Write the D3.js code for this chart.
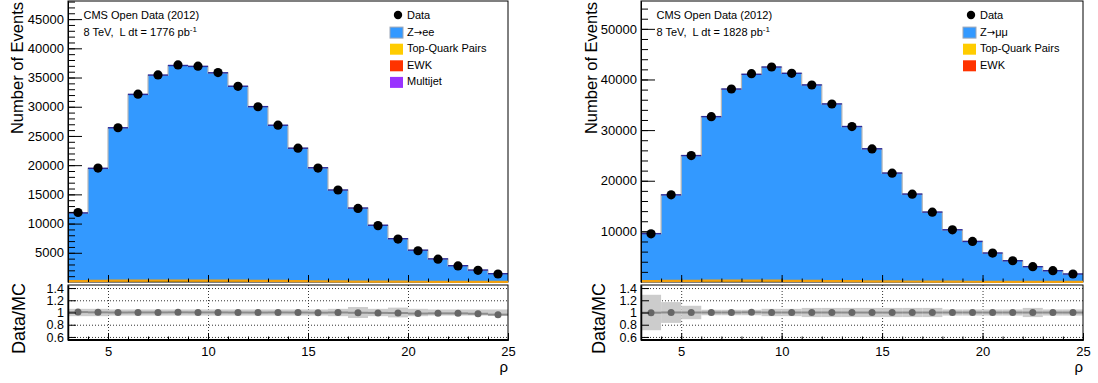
<!DOCTYPE html>
<html>
<head>
<meta charset="utf-8">
<script src="https://cdn.jsdelivr.net/npm/d3@7"></script>
<style>
  body { margin: 0; background: #fff; }
  svg { display: block; font-family: "Liberation Sans", Arial, sans-serif; }
</style>
</head>
<body>
<div id="container"></div>
<script>
/* CONSTANTS AND GLOBALS */
const width = 1098,
  height = 383;

/* DATA */
const binEdges = [3, 4, 5, 6, 7, 8, 9, 10, 11, 12, 13, 14, 15, 16, 17, 18, 19, 20, 21, 22, 23, 24, 25];

// Z -> ee channel
const eeData = [11900, 19500, 26400, 32150, 35450, 37150, 36950, 35850, 33500, 30000, 26850, 22900, 19500, 15750, 12600, 9650, 7350, 5350, 3900, 2750, 2000, 1370];
const eeZ = [11620, 19180, 26080, 31760, 35050, 36700, 36560, 35480, 33210, 29750, 26590, 22700, 19380, 15600, 12550, 9620, 7340, 5390, 3915, 2760, 2020, 1405];
const eeTop = [150, 200, 230, 250, 260, 260, 250, 240, 220, 200, 180, 150, 130, 110, 80, 70, 55, 40, 30, 22, 16, 12];
const eeEwk = [30, 45, 55, 60, 60, 60, 55, 50, 45, 40, 35, 30, 25, 20, 16, 12, 10, 7, 5, 4, 3, 2];
const eeQcd = [20, 30, 35, 40, 40, 40, 38, 35, 30, 28, 25, 20, 17, 14, 11, 9, 7, 5, 4, 3, 2, 1];
const eeBand = [0.06, 0.06, 0.05, 0.05, 0.05, 0.05, 0.05, 0.05, 0.05, 0.05, 0.05, 0.05, 0.05, 0.06, 0.09, 0.06, 0.08, 0.06, 0.05, 0.05, 0.05, 0.05];

// Z -> mumu channel
const mmData = [9520, 17220, 24970, 32660, 38120, 41140, 42460, 41210, 38910, 35160, 30690, 26290, 21490, 17350, 13800, 10310, 8010, 5720, 4200, 3020, 2230, 1580];
const mmZ = [9350, 16950, 24670, 32330, 37770, 40680, 42130, 40920, 38650, 34940, 30500, 26140, 21370, 17250, 13720, 10240, 7955, 5680, 4170, 3000, 2215, 1570];
const mmTop = [160, 210, 240, 260, 270, 270, 260, 240, 220, 190, 170, 140, 120, 95, 75, 60, 45, 35, 25, 18, 13, 9];
const mmEwk = [40, 50, 60, 70, 70, 70, 65, 55, 50, 40, 35, 30, 25, 20, 15, 12, 10, 7, 5, 4, 3, 2];
const mmBand = [0.29, 0.17, 0.11, 0.045, 0.045, 0.045, 0.06, 0.06, 0.075, 0.075, 0.075, 0.075, 0.075, 0.075, 0.075, 0.05, 0.05, 0.05, 0.05, 0.075, 0.05, 0.05];

// axis ticks
const eeYTicks = [5000, 10000, 15000, 20000, 25000, 30000, 35000, 40000, 45000];
const mmYTicks = [10000, 20000, 30000, 40000, 50000];
const xTicks = [5, 10, 15, 20, 25];
const ratioTicks = [0.6, 0.8, 1, 1.2, 1.4];

const colors = {
  z: '#3399ff',
  top: '#ffcc00',
  ewk: '#ff3300',
  qcd: '#9933ff'
};

/* CREATE SVG ELEMENT */
const svg = d3.select('#container')
  .append('svg')
  .attr('width', width)
  .attr('height', height);

function drawPanel(p) {
  const n = binEdges.length - 1;
  const rows = d3.range(n).map(i => ({
    lo: binEdges[i],
    hi: binEdges[i + 1],
    top: p.top[i],
    ewk: p.ewk[i],
    z: p.z[i],
    qcd: p.qcd ? p.qcd[i] : 0,
    data: p.data[i],
    band: p.band[i]
  }));
  rows.forEach(d => {
    d.mc = d.top + d.ewk + d.z + d.qcd;
    d.ratio = d.data / d.mc;
  });

  // SCALES
  const x = d3.scaleLinear().domain([binEdges[0], binEdges[n]]).range([p.x0, p.x1]);
  const y = d3.scaleLinear().domain([0, p.ymax]).range([282, 1]);
  const yr = d3.scaleLinear().domain([0.55, 1.45]).range([340, 285]);

  const g = svg.append('g');

  // STACKED HISTOGRAMS
  const keys = p.qcd ? ['top', 'ewk', 'z', 'qcd'] : ['top', 'ewk', 'z'];
  const series = d3.stack().keys(keys)(rows);
  const stepPts = s => {
    const pts = s.map((d, i) => [rows[i].lo, d[0], d[1]]);
    pts.push([rows[n - 1].hi, s[n - 1][0], s[n - 1][1]]);
    return pts;
  };
  const area = d3.area()
    .curve(d3.curveStepAfter)
    .x(d => x(d[0]))
    .y0(d => y(d[1]))
    .y1(d => y(d[2]));

  series.forEach(s => {
    g.append('path')
      .attr('d', area(stepPts(s)))
      .attr('fill', colors[s.key]);
  });

  // outline of the stack: grey risers, dark blue tops
  const line = d3.line()
    .curve(d3.curveStepAfter)
    .x(d => x(d[0]))
    .y(d => y(d[2]));
  const topSeries = series[series.length - 1];
  g.append('path')
    .attr('d', line(stepPts(topSeries)))
    .attr('fill', 'none')
    .attr('stroke', '#b8b8b8')
    .attr('stroke-width', 1.2);
  g.selectAll('.top-edge')
    .data(rows)
    .join('line')
    .attr('x1', d => x(d.lo))
    .attr('x2', d => x(d.hi))
    .attr('y1', d => y(d.mc))
    .attr('y2', d => y(d.mc))
    .attr('stroke', '#2a2a9c')
    .attr('stroke-width', 1.4);

  // DATA POINTS
  g.selectAll('.dot')
    .data(rows)
    .join('circle')
    .attr('cx', d => x((d.lo + d.hi) / 2))
    .attr('cy', d => y(d.data))
    .attr('r', 4.6)
    .attr('fill', '#000');

  // TOP FRAME AND AXES
  g.append('rect')
    .attr('x', p.x0).attr('y', 1)
    .attr('width', p.x1 - p.x0).attr('height', 281)
    .attr('fill', 'none').attr('stroke', '#000').attr('stroke-width', 1);

  // top-quark line along the bottom
  g.append('path')
    .attr('d', line(stepPts(series[0])))
    .attr('fill', 'none')
    .attr('stroke', '#f0a010')
    .attr('stroke-width', 2.2);

  const yAxis = d3.axisLeft(y)
    .tickValues(p.yTicks)
    .tickFormat(d3.format('d'))
    .tickSizeInner(-14)
    .tickSizeOuter(0)
    .tickPadding(4);
  const yMinor = d3.axisLeft(y)
    .tickValues(d3.range(p.minorStep, p.ymax, p.minorStep))
    .tickFormat('')
    .tickSizeInner(-7)
    .tickSizeOuter(0);
  g.append('g').attr('transform', `translate(${p.x0},0)`).call(yMinor);
  g.append('g').attr('transform', `translate(${p.x0},0)`).call(yAxis)
    .attr('font-size', 13).attr('font-family', null);

  const xTop = d3.axisBottom(x).tickValues(xTicks.slice(0, -1)).tickFormat('')
    .tickSizeInner(-7).tickSizeOuter(0);
  const xTopMinor = d3.axisBottom(x).tickValues(binEdges.slice(1, -1)).tickFormat('')
    .tickSizeInner(-3.5).tickSizeOuter(0);
  g.append('g').attr('transform', 'translate(0,282)').call(xTopMinor)
    .call(a => a.select('.domain').remove());
  g.append('g').attr('transform', 'translate(0,282)').call(xTop)
    .call(a => a.select('.domain').remove());

  g.append('text')
    .attr('transform', `translate(${p.titleX},2) rotate(-90)`)
    .attr('text-anchor', 'end')
    .attr('font-size', 16.5)
    .text('Number of Events');

  // LABELS
  g.append('text').attr('x', p.x0 + 15.5).attr('y', 19).attr('font-size', 11)
    .text('CMS Open Data (2012)');
  const lumi = g.append('text').attr('x', p.x0 + 15.5).attr('y', 36).attr('font-size', 11);
  lumi.append('tspan').text(`8 TeV, \u00a0L dt = ${p.lumi} pb`);
  lumi.append('tspan').attr('dy', -4).attr('font-size', 8).text('-1');

  // LEGEND
  const lx = p.x0 + 322;
  p.legend.forEach((e, i) => {
    const by = 19 + i * 16.6;
    if (e.dot) {
      g.append('circle').attr('cx', lx + 8).attr('cy', by - 4).attr('r', 4.2).attr('fill', '#000');
    } else {
      g.append('rect').attr('x', lx).attr('y', by - 8.5).attr('width', 13).attr('height', 11)
        .attr('fill', colors[e.key])
        .attr('stroke', e.key === 'z' ? '#9aa6b8' : 'none');
    }
    const t = g.append('text').attr('x', lx + 17).attr('y', by).attr('font-size', 11);
    if (e.arrow) {
      t.append('tspan').text('Z');
      t.append('tspan').attr('font-family', 'DejaVu Sans').attr('font-size', 10).text('\u2192');
      t.append('tspan').text(e.arrow);
    } else {
      t.text(e.label);
    }
  });

  // RATIO PANEL
  const gridH = d3.axisLeft(yr).tickValues([0.6, 0.8, 1.2, 1.4]).tickFormat('')
    .tickSizeInner(-(p.x1 - p.x0)).tickSizeOuter(0);
  g.append('g').attr('transform', `translate(${p.x0},0)`).call(gridH)
    .call(a => a.select('.domain').remove())
    .call(a => a.selectAll('line').attr('stroke-dasharray', '1,2').attr('stroke', '#333'));
  const gridV = d3.axisBottom(x).tickValues(xTicks.slice(0, -1)).tickFormat('')
    .tickSizeInner(-55).tickSizeOuter(0);
  g.append('g').attr('transform', 'translate(0,340)').call(gridV)
    .call(a => a.select('.domain').remove())
    .call(a => a.selectAll('line').attr('stroke-dasharray', '1,2').attr('stroke', '#333'));

  g.selectAll('.band')
    .data(rows)
    .join('rect')
    .attr('x', d => x(d.lo))
    .attr('width', d => x(d.hi) - x(d.lo))
    .attr('y', d => yr(1 + d.band))
    .attr('height', d => yr(1 - d.band) - yr(1 + d.band))
    .attr('fill', '#cccccc');

  g.selectAll('.rbar')
    .data(rows)
    .join('line')
    .attr('x1', d => x(d.lo))
    .attr('x2', d => x(d.hi))
    .attr('y1', d => yr(d.ratio))
    .attr('y2', d => yr(d.ratio))
    .attr('stroke', '#8c8c8c')
    .attr('stroke-width', 2);
  g.selectAll('.rdot')
    .data(rows)
    .join('circle')
    .attr('cx', d => x((d.lo + d.hi) / 2))
    .attr('cy', d => yr(d.ratio))
    .attr('r', 3.5)
    .attr('fill', '#666');

  g.append('rect')
    .attr('x', p.x0).attr('y', 285)
    .attr('width', p.x1 - p.x0).attr('height', 55)
    .attr('fill', 'none').attr('stroke', '#000').attr('stroke-width', 1);
  g.append('line').attr('x1', p.x0).attr('x2', p.x1).attr('y1', 340).attr('y2', 340)
    .attr('stroke', '#000').attr('stroke-width', 2);

  const ryAxis = d3.axisLeft(yr).tickValues(ratioTicks).tickFormat(d3.format('~g'))
    .tickSizeInner(-8).tickSizeOuter(0).tickPadding(4);
  g.append('g').attr('transform', `translate(${p.x0},0)`).call(ryAxis)
    .attr('font-size', 12.5).attr('font-family', null)
    .call(a => a.select('.domain').attr('stroke-width', 1.5))
    .call(a => a.selectAll('text').attr('dy', '0.33em'));

  const rxMinor = d3.axisBottom(x).tickValues(binEdges.slice(1, -1)).tickFormat('')
    .tickSizeInner(-3.5).tickSizeOuter(0);
  const rxAxis = d3.axisBottom(x).tickValues(xTicks).tickFormat(d3.format('d'))
    .tickSizeInner(-7).tickSizeOuter(0).tickPadding(6.5);
  g.append('g').attr('transform', 'translate(0,340)').call(rxMinor);
  g.append('g').attr('transform', 'translate(0,340)').call(rxAxis)
    .attr('font-size', 13).attr('font-family', null);

  g.append('text')
    .attr('transform', `translate(${p.ratioTitleX},283) rotate(-90)`)
    .attr('text-anchor', 'end')
    .attr('font-size', 18)
    .text('Data/MC');

  g.append('text')
    .attr('x', p.x1).attr('y', 372)
    .attr('text-anchor', 'end')
    .attr('font-size', 15)
    .text('\u03c1');
}

drawPanel({
  x0: 68, x1: 508, ymax: 48100, minorStep: 1000,
  yTicks: eeYTicks, titleX: 23, ratioTitleX: 25,
  data: eeData, z: eeZ, top: eeTop, ewk: eeEwk, qcd: eeQcd, band: eeBand,
  lumi: 1776,
  legend: [
    { dot: true, label: 'Data' },
    { key: 'z', label: 'Z\u2192ee', arrow: 'ee' },
    { key: 'top', label: 'Top-Quark Pairs' },
    { key: 'ewk', label: 'EWK' },
    { key: 'qcd', label: 'Multijet' }
  ]
});

drawPanel({
  x0: 641, x1: 1083, ymax: 55500, minorStep: 2000,
  yTicks: mmYTicks, titleX: 597, ratioTitleX: 605,
  data: mmData, z: mmZ, top: mmTop, ewk: mmEwk, qcd: null, band: mmBand,
  lumi: 1828,
  legend: [
    { dot: true, label: 'Data' },
    { key: 'z', label: 'Z\u2192\u03bc\u03bc', arrow: '\u03bc\u03bc' },
    { key: 'top', label: 'Top-Quark Pairs' },
    { key: 'ewk', label: 'EWK' }
  ]
});
</script>
</body>
</html>
